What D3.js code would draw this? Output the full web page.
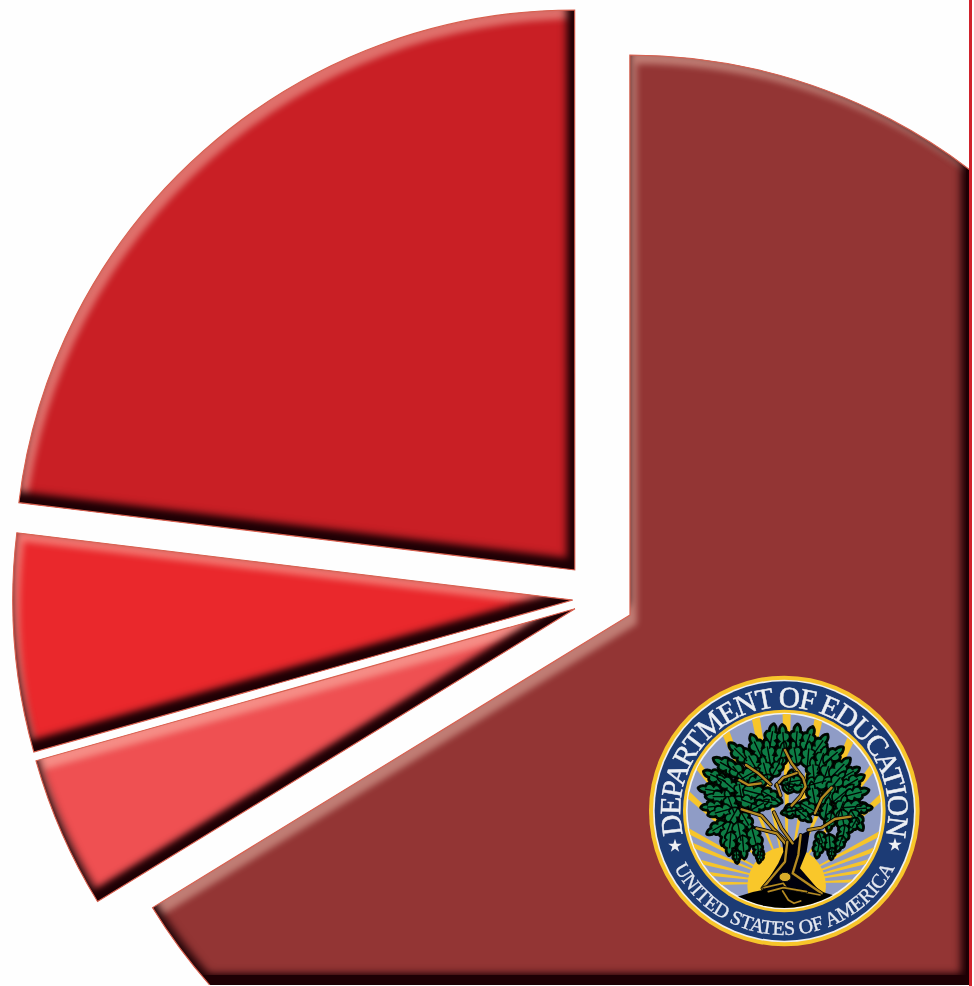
<!DOCTYPE html>
<html><head><meta charset="utf-8">
<script src="https://cdn.jsdelivr.net/npm/d3@7"></script>
<style>html,body{margin:0;padding:0;background:#fefefe;overflow:hidden}svg{display:block}</style>
</head><body><div id="c"></div>
<script>
// ---- chart values (share of the pie, %, read clockwise from 276.9deg)
const sliceNames  = ["Upper left","Main","Lower left small","Lower left"];
const sliceValues = [23.08, 66.25, 4.38, 6.29];
const sliceColors = ["#c91f25", "#933534", "#ef5052", "#ea282c"];
const sliceExplode = [37.5, 34.7, 27, 27];

// ---- seal artwork, in seal-local units
const rayAngles = [0,-10.6,-22,-37,-48,-62,-76,-90,11,24,36.6,47.7,62,75,88,-68,69,-83,81];
// x, y, rotation, length
const leaves = [
[395,215,-80,60],[430,218,-95,60],[470,215,-85,58],[505,222,-70,60],[540,240,-55,60],
[350,245,-115,62],[385,262,-100,64],[425,265,-75,60],[465,262,-100,60],[505,268,-85,62],[545,280,-70,62],[580,272,-40,60],
[295,262,-135,60],[335,288,-120,66],[375,310,-105,64],[412,305,-60,50],[520,315,-95,60],[560,320,-70,64],[600,310,-45,66],[630,325,-30,50],
[255,300,-150,62],[290,318,-130,66],[325,330,-30,64],[360,345,-20,60],[450,350,-80,55],[470,360,10,60],[540,352,-15,70],[590,350,-50,62],[640,350,-30,58],
[225,335,-155,58],[260,355,-140,60],[300,372,-100,55],[350,385,15,70],[395,395,30,55],[455,350,170,50],[520,385,-100,58],[565,395,-60,60],[610,385,-40,65],[650,385,-15,58],
[210,375,-170,55],[235,395,180,60],[270,410,-110,60],[320,410,-160,60],[380,410,10,60],[470,435,-10,60],[510,430,30,52],[560,430,-80,55],[605,425,-70,60],[645,425,-5,60],[670,430,-5,40],
[215,425,175,50],[240,440,165,58],[275,460,120,60],[320,470,60,50],[360,420,-30,50],[450,440,170,40],[490,450,40,46],[570,470,100,45],[610,470,80,60],[650,465,60,55],
[230,490,150,52],[260,505,110,60],[300,510,80,65],[345,525,75,62],[610,510,100,50],[640,480,120,40],
[270,535,95,56],[310,545,85,56],[355,560,85,40],[535,550,100,44],[570,540,85,50],[600,535,110,40],[545,525,70,40],
[290,575,85,30],[360,575,100,28],[575,565,95,28]
];
const branches = [
"M435,255 L455,295 L490,340 L497,365 L480,395 L455,422",
"M318,300 L355,325 L392,358",
"M298,345 L325,360 L362,355",
"M408,362 L430,338 L470,324",
"M410,358 L422,392",
"M575,368 L545,400 L525,445",
"M632,455 L585,462 L545,488 L505,495",
"M305,433 L365,452 L400,492 L440,530",
"M402,442 L425,490 L458,535",
"M350,490 L410,505 L440,540"];
const trunkFill = "M425,515 L455,535 L480,510 L510,495 L500,560 L480,610 L545,685 L365,675 L415,595 L430,560 Z";
const trunkLines = ["M442,530 L435,590 L368,670","M482,510 L475,570 L458,625 L545,685"];
const bookLines = ["M372,668 L430,655 L440,670 L540,690","M385,680 L430,668 L500,680","M428,678 L445,705 L462,715 L482,708"];

// ---- layout
const W=974,H=986;
const pieCentre=[599.7,598], R=560;
const svg=d3.select("#c").append("svg").attr("width",W).attr("height",H);
svg.append("rect").attr("width",W).attr("height",H).attr("fill","#fefefe");
const defs=svg.append("defs");

const clip=defs.append("clipPath").attr("id","page");
clip.append("rect").attr("x",0).attr("y",0).attr("width",969).attr("height",985);

const f=defs.append("filter").attr("id","bevel").attr("filterUnits","userSpaceOnUse")
  .attr("x",0).attr("y",0).attr("width",W).attr("height",H)
  .attr("color-interpolation-filters","sRGB");
f.append("feGaussianBlur").attr("in","SourceAlpha").attr("stdDeviation",3).attr("result","b");
f.append("feGaussianBlur").attr("in","SourceAlpha").attr("stdDeviation",4).attr("result","b2");
f.append("feOffset").attr("in","b").attr("dx",7).attr("dy",9).attr("result","lo");
f.append("feComposite").attr("in","SourceAlpha").attr("in2","lo").attr("operator","out").attr("result","lm");
f.append("feFlood").attr("flood-color","#ffe0cc").attr("flood-opacity",0.42).attr("result","lc");
f.append("feComposite").attr("in","lc").attr("in2","lm").attr("operator","in").attr("result","light");
f.append("feOffset").attr("in","b2").attr("dx",-8).attr("dy",-6).attr("result","d1");
f.append("feOffset").attr("in","b2").attr("dx",-1).attr("dy",-11).attr("result","d2");
f.append("feComposite").attr("in","d1").attr("in2","d2").attr("operator","in").attr("result","di");
f.append("feComposite").attr("in","SourceAlpha").attr("in2","di").attr("operator","out").attr("result","dm");
f.append("feFlood").attr("flood-color","#1e0004").attr("flood-opacity",1).attr("result","dc");
f.append("feComposite").attr("in","dc").attr("in2","dm").attr("operator","in").attr("result","dark");
const m=f.append("feMerge");
["SourceGraphic","light","dark"].forEach(n=>m.append("feMergeNode").attr("in",n));

const soft=defs.append("filter").attr("id","soft").attr("x","-5%").attr("y","-5%").attr("width","110%").attr("height","110%");
soft.append("feGaussianBlur").attr("stdDeviation",1.6);

const pie=d3.pie().sort(null)
  .startAngle(276.9*Math.PI/180).endAngle((276.9+360)*Math.PI/180);
const arc=d3.arc().innerRadius(0).outerRadius(R);
const arcs=pie(sliceValues);
const tf=(d,i)=>{const a=(d.startAngle+d.endAngle)/2;
  return `translate(${pieCentre[0]+sliceExplode[i]*Math.sin(a)},${pieCentre[1]-sliceExplode[i]*Math.cos(a)})`;};

// right edge rule
svg.append("rect").attr("x",969).attr("y",0).attr("width",3).attr("height",H).attr("fill","#d0222c");

const gs=svg.selectAll("g.slice").data(arcs).join("g").attr("class","slice").attr("filter","url(#bevel)");
gs.append("g").attr("clip-path","url(#page)")
  .append("path").attr("d",arc).attr("transform",tf).attr("fill",(d,i)=>sliceColors[i]).attr("data-name",(d,i)=>sliceNames[i]);
svg.selectAll("g.rim").data(arcs).join("g").attr("class","rim").attr("clip-path","url(#page)")
  .append("path").attr("d",arc).attr("transform",tf).attr("fill","none").attr("stroke","#d8604f").attr("stroke-width",1.1);

// ---- seal
const s=svg.append("g").attr("transform","translate(640,665) scale(0.3333)").attr("filter","url(#soft)");
const cx=433,cy=438;
const ring=(r,c)=>s.append("circle").attr("cx",cx).attr("cy",cy).attr("r",r).attr("fill",c);
ring(406,"#f7c52c");ring(394,"#eef0f2");ring(389,"#1f3a74");
ring(304,"#f7c52c");ring(295,"#f2f3f3");ring(290,"#8f9cc6");
const sc=defs.append("clipPath").attr("id","inner");
sc.append("circle").attr("cx",cx).attr("cy",cy).attr("r",291);
const inner=s.append("g").attr("clip-path","url(#inner)");
const ox=440,oy=655;
inner.selectAll("path.ray").data(rayAngles).join("path").attr("class","ray")
  .attr("d",a=>{const t=a*Math.PI/180,w=0.024,l=560;
    return `M${ox},${oy} L${ox+l*Math.sin(t-w)},${oy-l*Math.cos(t-w)} L${ox+l*Math.sin(t+w)},${oy-l*Math.cos(t+w)} Z`;})
  .attr("fill","#f7c52c");
inner.append("circle").attr("cx",ox).attr("cy",oy+8).attr("r",118).attr("fill","#f9c72c");
inner.append("path").attr("d","M292,695 Q370,668 440,668 Q520,668 585,692 Q520,745 440,745 Q350,745 292,695 Z").attr("fill","#050505");

const leafD=L0=>{const L=L0*1.25,w=L*0.3;
 return `M0,0 Q${L*.12},${-w} ${L*.3},${-w*.8} L${L*.36},${-w*.5} Q${L*.5},${-w*1.1} ${L*.66},${-w*.7} L${L*.7},${-w*.35} Q${L*.88},${-w*.5} ${L},0 Q${L*.88},${w*.5} ${L*.7},${w*.35} L${L*.66},${w*.7} Q${L*.5},${w*1.1} ${L*.36},${w*.5} L${L*.3},${w*.8} Q${L*.12},${w} 0,0 Z`;};
const leafT=d=>`translate(${d[0]-Math.cos(d[2]*Math.PI/180)*d[3]*.62},${d[1]-Math.sin(d[2]*Math.PI/180)*d[3]*.62}) rotate(${d[2]})`;
s.append("g").selectAll("path").data(leaves).join("path").attr("d",d=>leafD(d[3])).attr("transform",leafT)
  .attr("fill","#050805").attr("stroke","#050805").attr("stroke-width",12).attr("stroke-linejoin","round");
s.append("g").selectAll("path").data(leaves).join("path").attr("d",d=>leafD(d[3])).attr("transform",leafT)
  .attr("fill","#0a7d45").attr("stroke","#040704").attr("stroke-width",5);
s.append("g").selectAll("line").data(leaves).join("line").attr("transform",leafT)
  .attr("x1",0).attr("y1",0).attr("x2",d=>d[3]*.9).attr("y2",0).attr("stroke","#040704").attr("stroke-width",4);
s.append("path").attr("d",trunkFill).attr("fill","#06060a");
const gold=(d,w)=>{s.append("path").attr("d",d).attr("fill","none").attr("stroke","#060606").attr("stroke-width",w+5).attr("stroke-linejoin","round").attr("stroke-linecap","round");
  s.append("path").attr("d",d).attr("fill","none").attr("stroke","#b58a24").attr("stroke-width",w).attr("stroke-linejoin","round").attr("stroke-linecap","round");};
branches.forEach(d=>gold(d,7));
trunkLines.forEach(d=>gold(d,7));
bookLines.forEach(d=>gold(d,5));
s.append("ellipse").attr("cx",435).attr("cy",636).attr("rx",18).attr("ry",14).attr("fill","#d8ab2c").attr("stroke","#060606").attr("stroke-width",3);

const pt=(r,deg)=>{const t=deg*Math.PI/180;return [cx+r*Math.sin(t),cy-r*Math.cos(t)];};
defs.append("path").attr("id","topArc").attr("d",`M${pt(312,-120)} A312,312 0 1 1 ${pt(312,120)}`);
defs.append("path").attr("id","botArc").attr("d",`M${pt(372,-110)} A372,372 0 0 0 ${pt(372,110)}`);
const tt=s.append("text").attr("font-family","'Liberation Serif',serif").attr("font-size",88).attr("fill","#eceff4")
  .attr("stroke","#eceff4").attr("stroke-width",1.5)
  .attr("text-anchor","middle").attr("letter-spacing",-5);
tt.append("textPath").attr("href","#topArc").attr("startOffset","50%").text("DEPARTMENT OF EDUCATION");
const bt=s.append("text").attr("font-family","'Liberation Serif',serif").attr("font-size",60).attr("fill","#e4e8f0")
  .attr("stroke","#e4e8f0").attr("stroke-width",1)
  .attr("text-anchor","middle").attr("letter-spacing",-0.5);
bt.append("textPath").attr("href","#botArc").attr("startOffset","50%").text("UNITED STATES OF AMERICA");
const star=d3.symbol().type(d3.symbolStar).size(520);
[[105,543],[765,540]].forEach(p=>s.append("path").attr("d",star()).attr("transform",`translate(${p})`).attr("fill","#eef0f4"));
</script></body></html>
